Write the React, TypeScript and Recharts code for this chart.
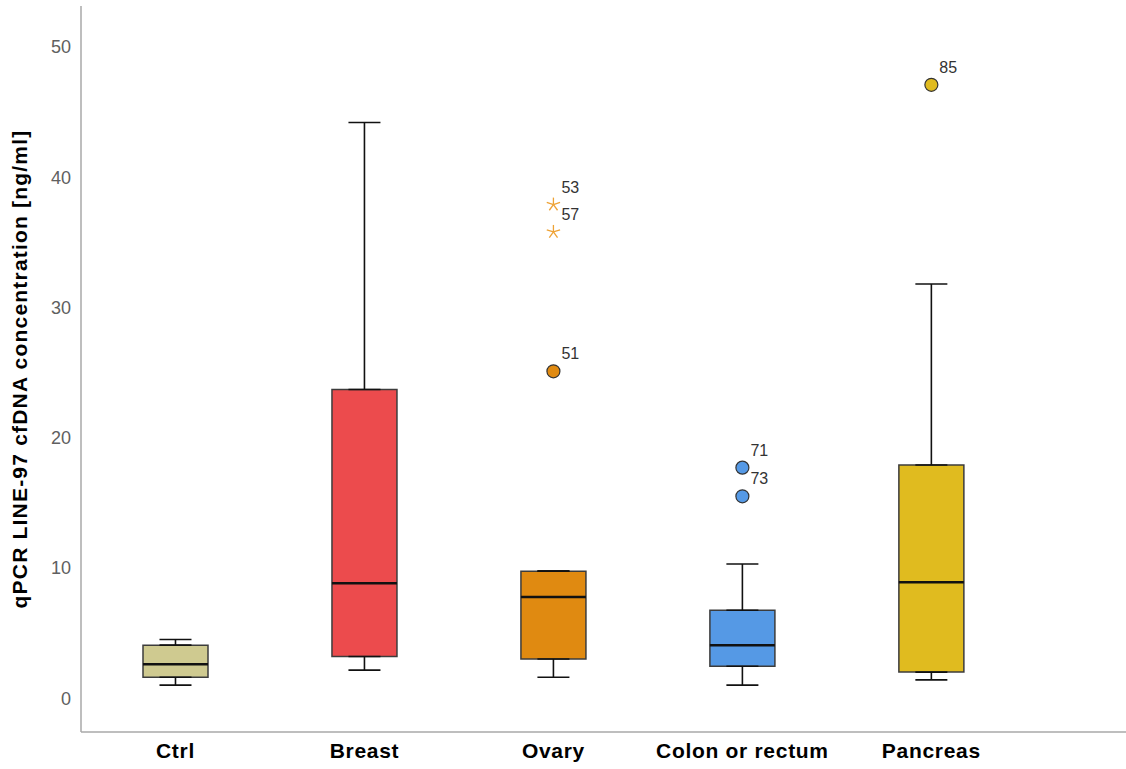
import {
  ComposedChart,
  Bar,
  Cell,
  Scatter,
  ErrorBar,
  XAxis,
  YAxis,
} from 'recharts';

const categories = ['Ctrl', 'Breast', 'Ovary', 'Colon or rectum', 'Pancreas'];
const boxColors = ['#cfca90', '#ec4b4d', '#e08a11', '#5599e5', '#e0bb1f'];

const whiskerLow = [1.0, 2.15, 1.6, 1.0, 1.4];
const q1 = [1.6, 3.2, 3.0, 2.45, 2.0];
const median = [2.6, 8.83, 7.76, 4.07, 8.9];
const q3 = [4.07, 23.7, 9.75, 6.75, 17.9];
const whiskerHigh = [4.5, 44.2, 9.75, 10.3, 31.8];

const outlierIds = ['51', '53', '57', '71', '73', '85'];
const outlierGroup = [2, 2, 2, 3, 3, 4];
const outlierValue = [25.1, 37.9, 35.8, 17.7, 15.5, 47.1];
const outlierKind = ['circle', 'star', 'star', 'circle', 'circle', 'circle'];

const yTicks = [0, 10, 20, 30, 40, 50];

const FONT = '"Liberation Sans", Arial, sans-serif';
const STAR_COLOR = '#eea235';

const boxRows = categories.map((name, i) => ({
  x: i,
  name,
  box: [q1[i], q3[i]],
  median: median[i],
  q1: q1[i],
  q3: q3[i],
  lowErr: [q1[i] - whiskerLow[i], 0],
  highErr: [0, whiskerHigh[i] - q3[i]],
}));

const outlierRows = outlierIds.map((id, i) => ({
  x: outlierGroup[i],
  y: outlierValue[i],
  id,
  kind: outlierKind[i],
  fill: boxColors[outlierGroup[i]],
}));

const Empty = () => <g />;

const MedianLine = (props: any) => {
  const { cx, cy } = props;
  return <line x1={cx - 32.5} x2={cx + 32.5} y1={cy} y2={cy} stroke="#111" strokeWidth={2.5} />;
};

const OutlierMark = (props: any) => {
  const { cx, cy, payload } = props;
  const label = (
    <text x={cx + 8} y={cy - 12} fontSize={16} fill="#333" fontFamily={FONT}>
      {payload.id}
    </text>
  );
  if (payload.kind === 'star') {
    const r = 7;
    const arms = [90, 162, 234, 306, 18].map((deg) => {
      const a = (deg * Math.PI) / 180;
      return (
        <line
          key={deg}
          x1={cx}
          y1={cy}
          x2={cx + r * Math.cos(a)}
          y2={cy - r * Math.sin(a)}
          stroke={STAR_COLOR}
          strokeWidth={1.3}
        />
      );
    });
    return (
      <g>
        {arms}
        {label}
      </g>
    );
  }
  return (
    <g>
      <circle cx={cx} cy={cy} r={6.5} fill={payload.fill} stroke="#333" strokeWidth={1.2} />
      {label}
    </g>
  );
};

export default function App() {
  return (
    <div style={{ position: 'absolute', left: 0, top: 0, background: '#fff' }}>
      <ComposedChart
        width={1126}
        height={769}
        data={boxRows}
        margin={{ top: 6, right: 0, bottom: 7, left: 0 }}
      >
        <XAxis
          dataKey="x"
          type="number"
          domain={[-0.5, 5.03]}
          ticks={[0, 1, 2, 3, 4]}
          tickFormatter={(v: number) => categories[v] ?? ''}
          height={30}
          tickLine={false}
          axisLine={{ stroke: '#a8a8a8', strokeWidth: 1.5 }}
          tick={{ fill: '#000', fontSize: 21, fontWeight: 700, fontFamily: FONT, letterSpacing: 0.7 }}
          tickMargin={5}
          allowDataOverflow
        />
        <YAxis
          type="number"
          domain={[-2.6, 53.15]}
          ticks={yTicks}
          width={81}
          tickLine={false}
          axisLine={{ stroke: '#a8a8a8', strokeWidth: 1.5 }}
          tick={{ fill: '#606060', fontSize: 18, fontFamily: FONT }}
          tickMargin={4}
          allowDataOverflow
          label={{
            value: 'qPCR LINE-97 cfDNA concentration [ng/ml]',
            angle: -90,
            position: 'insideLeft',
            offset: 20,
            style: {
              textAnchor: 'middle',
              fontSize: 21,
              fontWeight: 700,
              fill: '#000',
              fontFamily: FONT,
              letterSpacing: 1.2,
            },
          }}
        />
        <Scatter data={boxRows} dataKey="q1" shape={Empty} isAnimationActive={false}>
          <ErrorBar dataKey="lowErr" direction="y" width={16} stroke="#111" strokeWidth={1.6} />
        </Scatter>
        <Scatter data={boxRows} dataKey="q3" shape={Empty} isAnimationActive={false}>
          <ErrorBar dataKey="highErr" direction="y" width={16} stroke="#111" strokeWidth={1.6} />
        </Scatter>
        <Bar dataKey="box" barSize={65} stroke="#3c3c3c" strokeWidth={1.5} isAnimationActive={false}>
          {boxRows.map((_, i) => (
            <Cell key={i} fill={boxColors[i]} />
          ))}
        </Bar>
        <Scatter data={boxRows} dataKey="median" shape={MedianLine} isAnimationActive={false} />
        <Scatter data={outlierRows} dataKey="y" shape={OutlierMark} isAnimationActive={false} />
      </ComposedChart>
    </div>
  );
}
